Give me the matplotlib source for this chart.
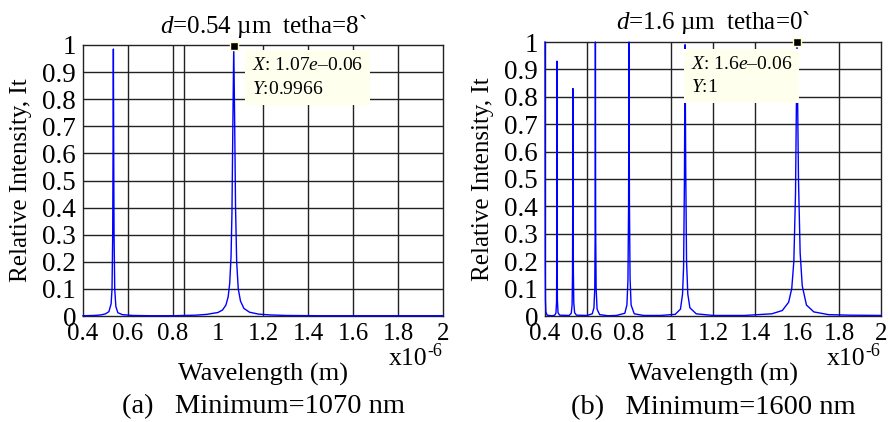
import matplotlib
matplotlib.use("Agg")
import matplotlib.pyplot as plt
from matplotlib.transforms import offset_copy

plt.rcParams['font.family'] = ['Liberation Serif', 'DejaVu Serif']
plt.rcParams['mathtext.fontset'] = 'custom'
plt.rcParams['mathtext.rm'] = 'Liberation Serif'
plt.rcParams['mathtext.it'] = 'Liberation Serif:italic'

# ---------------- data (wavelength in units of 1e-6 m) ----------------
wl_a = [0.400, 0.450, 0.480, 0.500, 0.515, 0.525, 0.529, 0.532, 0.5335, 0.535,
        0.5365, 0.538, 0.541, 0.546, 0.555, 0.575, 0.620, 0.700, 0.800, 0.900,
        0.950, 1.000, 1.020, 1.035, 1.045, 1.052, 1.058, 1.062, 1.066, 1.070,
        1.074, 1.078, 1.083, 1.090, 1.100, 1.115, 1.140, 1.180, 1.230, 1.300,
        1.450, 1.700, 2.000]
it_a = [0.001, 0.002, 0.004, 0.008, 0.016, 0.045, 0.10, 0.30, 0.60, 0.985,
        0.60, 0.30, 0.10, 0.035, 0.012, 0.005, 0.002, 0.001, 0.001, 0.003,
        0.006, 0.013, 0.022, 0.040, 0.070, 0.12, 0.22, 0.38, 0.70, 0.9966,
        0.72, 0.40, 0.20, 0.10, 0.055, 0.028, 0.014, 0.007, 0.004, 0.002,
        0.001, 0.001, 0.001]

wl_b = [0.400, 0.4005, 0.401, 0.402, 0.404, 0.410, 0.430,
        0.445, 0.452, 0.455, 0.456, 0.4565, 0.457, 0.4576, 0.4582, 0.459, 0.462, 0.470,
        0.515, 0.525, 0.529, 0.531, 0.532, 0.533, 0.534, 0.535, 0.537, 0.541, 0.550,
        0.600, 0.625, 0.633, 0.637, 0.6388, 0.640, 0.6412, 0.6435, 0.648, 0.660, 0.700,
        0.740, 0.780, 0.790, 0.795, 0.798, 0.800, 0.802, 0.805, 0.810, 0.825, 0.870,
        0.950, 1.020, 1.045, 1.055, 1.060, 1.064, 1.067, 1.070, 1.074, 1.080, 1.090, 1.120, 1.200,
        1.350, 1.480, 1.530, 1.560, 1.575, 1.585, 1.593, 1.600, 1.607, 1.615, 1.625, 1.645,
        1.680, 1.750, 1.850, 2.000]
it_b = [1.0, 0.5, 0.2, 0.06, 0.015, 0.003, 0.001,
        0.002, 0.01, 0.05, 0.2, 0.5, 0.93, 0.5, 0.2, 0.06, 0.012, 0.003,
        0.002, 0.01, 0.04, 0.15, 0.4, 0.83, 0.45, 0.17, 0.05, 0.012, 0.003,
        0.002, 0.008, 0.03, 0.10, 0.30, 1.0, 0.32, 0.10, 0.025, 0.005, 0.001,
        0.002, 0.01, 0.04, 0.13, 0.40, 1.0, 0.42, 0.14, 0.04, 0.008, 0.002,
        0.002, 0.006, 0.025, 0.08, 0.18, 0.50, 0.99, 0.55, 0.20, 0.08, 0.03, 0.008, 0.002,
        0.002, 0.008, 0.02, 0.05, 0.10, 0.20, 0.45, 1.0, 0.50, 0.23, 0.11, 0.04,
        0.015, 0.005, 0.003, 0.002]

xticks = [0.4, 0.6, 0.8, 1.0, 1.2, 1.4, 1.6, 1.8, 2.0]
xticklabels = ['0.4', '0.6', '0.8', '1', '1.2', '1.4', '1.6', '1.8', '2']
yticks = [0, 0.1, 0.2, 0.3, 0.4, 0.5, 0.6, 0.7, 0.8, 0.9, 1.0]
yticklabels = ['0', '0.1', '0.2', '0.3', '0.4', '0.5', '0.6', '0.7', '0.8', '0.9', '1']
vgrid_a = [0.6, 0.8, 0.85, 1.2, 1.4, 1.6, 1.8]
vgrid_b = [0.6, 1.0, 1.2, 1.4, 1.8]

titles = [r'$d$=0.54 µm  tetha=8`', r'$d$=1.6 µm  tetha=0`']
captions = ['(a)   Minimum=1070 nm', '(b)   Minimum=1600 nm']
tips = [(1.07, 0.9966, r'$X$: 1.07$e$–0.06' + '\n' + r'$Y$:0.9966'),
        (1.60, 1.0, r'$X$: 1.6$e$–0.06' + '\n' + r'$Y$:1')]

# ---------------- figure ----------------
fig = plt.figure(figsize=(8.9, 4.22), dpi=100)
W, H = 890, 422
boxes = [(83, 443, 45, 316), (545, 881, 42, 316)]
axes = []
for (l, r, t, b) in boxes:
    axes.append(fig.add_axes([l / W, (H - b) / H, (r - l) / W, (b - t) / H]))

datasets = [(wl_a, it_a, vgrid_a), (wl_b, it_b, vgrid_b)]
tip_boxes = [(1.15, 0.955), (1.095, 0.95)]

for i, ax in enumerate(axes):
    wl, it, vg = datasets[i]
    ax.set_xlim(0.4, 2.0)
    ax.set_ylim(0, 1.0)
    for g in yticks[1:-1]:
        ax.axhline(g, color='#222222', lw=1.0, zorder=1)
    for g in vg:
        ax.axvline(g, color='#222222', lw=1.0, zorder=1)
    ax.plot(wl, it, color='#0000FF', lw=1.0, zorder=3, clip_on=False)
    ax.set_xticks(xticks)
    ax.set_xticklabels(xticklabels)
    ax.set_yticks(yticks)
    ax.set_yticklabels(yticklabels)
    ax.tick_params(length=0)
    ax.tick_params(axis='x', pad=5, labelsize=18)
    ax.tick_params(axis='y', pad=5, labelsize=19.5)
    for s in ax.spines.values():
        s.set_color('#222222')
        s.set_linewidth(1.0)
    ax.set_title(titles[i], fontsize=18, pad=9)
    ax.set_ylabel('Relative Intensity, It', fontsize=18, labelpad=7)
    ax.set_xlabel('Wavelength (m)', fontsize=19, labelpad=13)
    tr = offset_copy(ax.transAxes, fig=fig, x=-16, y=0, units='dots')
    ax.text(1.0, -0.18, 'x10', transform=tr, ha='right', va='baseline',
            fontsize=18.5)
    tr2 = offset_copy(ax.transAxes, fig=fig, x=-16, y=9, units='dots')
    ax.text(1.0, -0.18, '-6', transform=tr2, ha='left', va='baseline',
            fontsize=13)
    ax.text(0.5, -0.335, captions[i], transform=ax.transAxes, ha='center',
            va='center', fontsize=20.5)
    tx, ty, tt = tips[i]
    ax.plot([tx], [ty], marker='s', ms=6, mfc='black', mec='#FFFFCC', mew=1,
            zorder=5, clip_on=False)
    bx, by = tip_boxes[i]
    ax.text(bx, by, tt, ha='left', va='top', fontsize=14, linespacing=1.5,
            zorder=4, bbox=dict(boxstyle='square,pad=0.35', fc='#FFFFEE', ec='none'))

fig.savefig('out.png', dpi=100)
